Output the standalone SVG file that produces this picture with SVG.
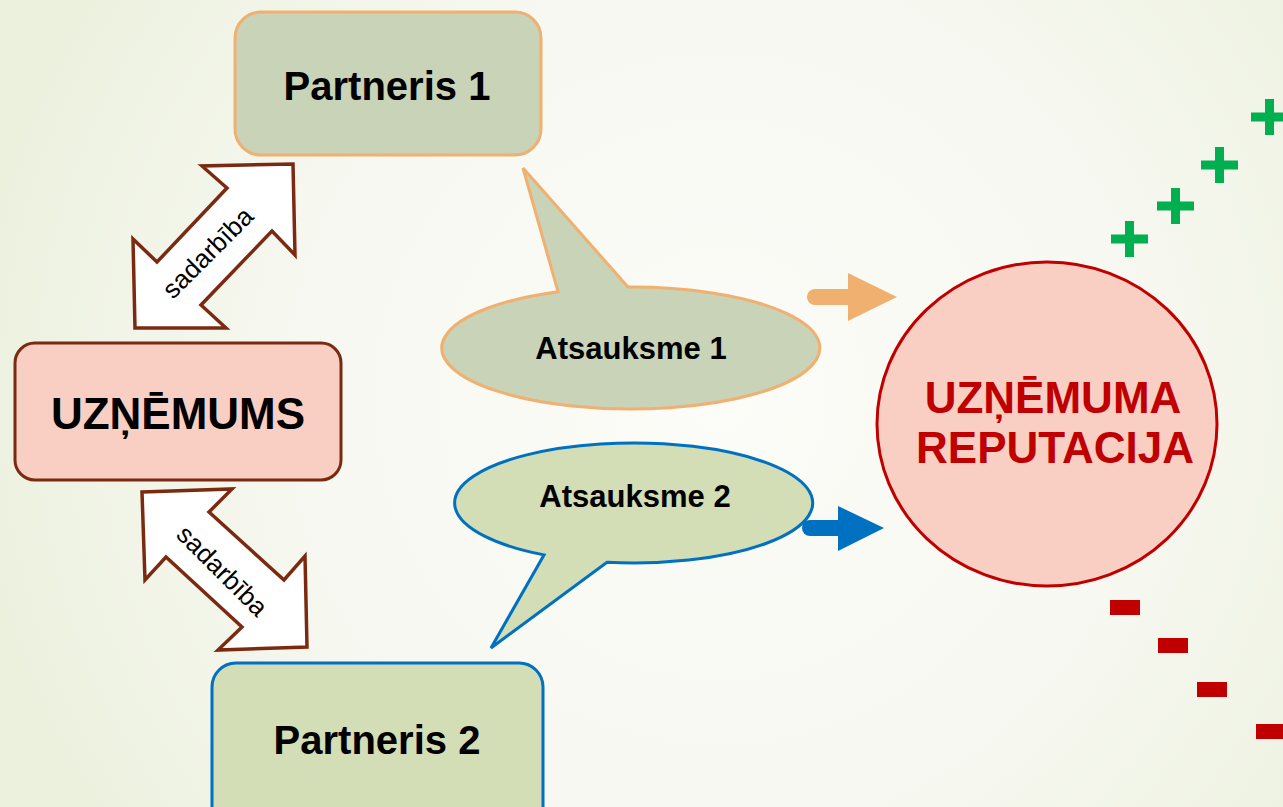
<svg xmlns="http://www.w3.org/2000/svg" width="1283" height="807" viewBox="0 0 1283 807">
<defs>
<radialGradient id="bg" cx="720" cy="400" r="760" gradientUnits="userSpaceOnUse">
<stop offset="0" stop-color="#fcfcf8"/>
<stop offset="0.55" stop-color="#f7f8f1"/>
<stop offset="1" stop-color="#ecf1de"/>
</radialGradient>
<style>
.lbl{font-family:"Liberation Sans",Arial,sans-serif;font-weight:bold;fill:#000;text-anchor:middle}
.sm{font-family:"Liberation Sans",Arial,sans-serif;font-size:26px;fill:#000;text-anchor:middle}
.rep{font-family:"Liberation Sans",Arial,sans-serif;font-weight:bold;font-size:44px;fill:#c00000;text-anchor:middle}
.dbl{fill:#fff;stroke:#7b2a12;stroke-width:3.5;stroke-linejoin:miter}
.plus{fill:#00b050}
.minus{fill:#c00000}
</style>
</defs>
<rect width="1283" height="807" fill="url(#bg)"/>

<g id="partneris1">
<rect x="235" y="12" width="306" height="143" rx="26" fill="#c8d3b8" stroke="#f0b070" stroke-width="3"/>
<text class="lbl" x="387" y="100" font-size="40">Partneris 1</text>
</g>

<g id="uznemums">
<rect x="15" y="343" width="326" height="137" rx="20" fill="#f9cfc3" stroke="#7b2a12" stroke-width="3"/>
<text class="lbl" x="178" y="429" font-size="44">UZŅĒMUMS</text>
</g>

<g id="partneris2">
<rect x="212" y="663" width="331" height="170" rx="24" fill="#d3ddb6" stroke="#0070c0" stroke-width="3"/>
<text class="lbl" x="377" y="754" font-size="40">Partneris 2</text>
</g>

<g id="atsauksme1">
<path d="M558,291.7 L523,168 L628,287 A189,61 0 1 1 558,291.7 Z" fill="#c8d3b8" stroke="#f0b070" stroke-width="3" stroke-linejoin="miter"/>
<text class="lbl" x="631" y="359" font-size="31">Atsauksme 1</text>
</g>

<g id="atsauksme2">
<path d="M544,554.9 L491,648 L607,562.3 A179,60 0 1 0 544,554.9 Z" fill="#d3ddb6" stroke="#0070c0" stroke-width="3" stroke-linejoin="miter"/>
<text class="lbl" x="635" y="507" font-size="31">Atsauksme 2</text>
</g>

<g id="reputacija">
<ellipse cx="1047" cy="424" rx="170" ry="162" fill="#f9cfc3" stroke="#c00000" stroke-width="3"/>
<text class="rep" x="1053" y="413">UZŅĒMUMA</text>
<text class="rep" x="1055" y="463">REPUTACIJA</text>
</g>

<g id="connectors">
<g id="sadarbiba1">
<polygon class="dbl" points="293,164 295,255 272,231 201,305 226,328 135,328 133,239 157,262 227,188 202,166"/>
<text class="sm" transform="translate(214,259) rotate(-45)">sadarbība</text>
</g>
<g id="sadarbiba2">
<polygon class="dbl" points="142,492 232,489 209,512 284,580 305,556 307,647 218,650 242,627 166,557 145,580"/>
<text class="sm" transform="translate(216,577) rotate(45)">sadarbība</text>
</g>
<g id="arrow-orange" fill="#f0b070">
<rect x="807" y="289" width="48" height="16" rx="8"/>
<polygon points="848,273 897,297 848,321"/>
</g>
<g id="arrow-blue" fill="#0070c0">
<rect x="802" y="520" width="44" height="16" rx="8"/>
<polygon points="838,506 884,528 838,551"/>
</g>
</g>

<g id="plus-signs" class="plus">
<rect x="1111" y="234.5" width="37" height="9"/><rect x="1125" y="221" width="9" height="36"/>
<rect x="1157" y="201.5" width="37" height="9"/><rect x="1171" y="188" width="9" height="36"/>
<rect x="1201" y="160.5" width="37" height="9"/><rect x="1215" y="147" width="9" height="36"/>
<rect x="1251" y="112.5" width="37" height="9"/><rect x="1265" y="99" width="9" height="36"/>
</g>

<g id="minus-signs" class="minus">
<rect x="1110" y="600" width="30" height="15"/>
<rect x="1158" y="638" width="30" height="15"/>
<rect x="1197" y="682" width="30" height="15"/>
<rect x="1256" y="724" width="30" height="15"/>
</g>
</svg>
